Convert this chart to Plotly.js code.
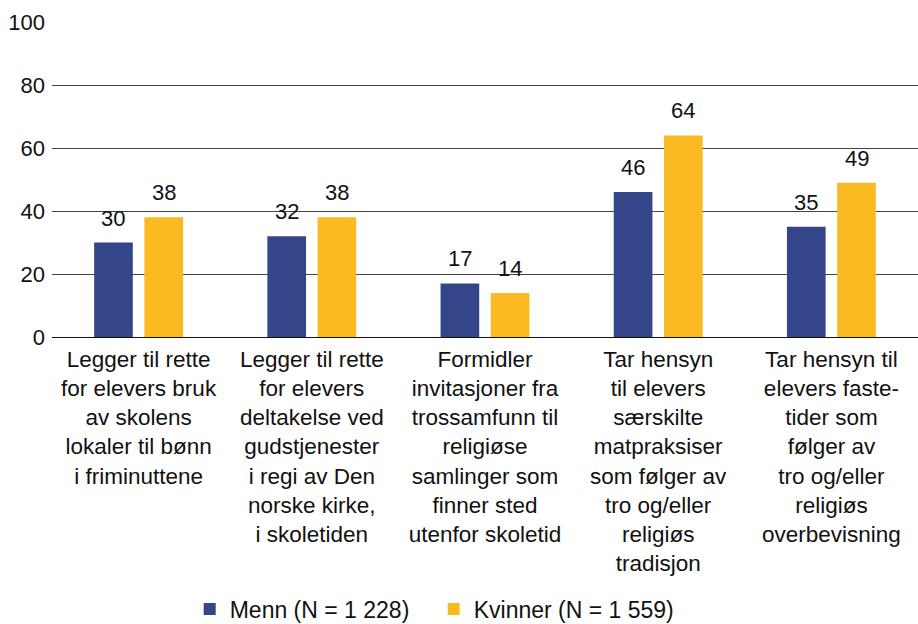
<!DOCTYPE html>
<html>
<head>
<meta charset="utf-8">
<script src="https://cdn.plot.ly/plotly-3.0.1.min.js"></script>
<style>html,body{margin:0;padding:0;background:#fff;}#chart{width:918px;height:624px;}</style>
</head>
<body>
<div id="chart"></div>
<script>
const categories = [
  "Legger til rette<br>for elevers bruk<br>av skolens<br>lokaler til bønn<br>i friminuttene",
  "Legger til rette<br>for elevers<br>deltakelse ved<br>gudstjenester<br>i regi av Den<br>norske kirke,<br>i skoletiden",
  "Formidler<br>invitasjoner fra<br>trossamfunn til<br>religiøse<br>samlinger som<br>finner sted<br>utenfor skoletid",
  "Tar hensyn<br>til elevers<br>særskilte<br>matpraksiser<br>som følger av<br>tro og/eller<br>religiøs<br>tradisjon",
  "Tar hensyn til<br>elevers faste-<br>tider som<br>følger av<br>tro og/eller<br>religiøs<br>overbevisning"
];
const menn = [30, 32, 17, 46, 35];
const kvinner = [38, 38, 14, 64, 49];
const seriesNames = ["Menn (N = 1 228)", "Kvinner (N = 1 559)"];
const yTicks = [0, 20, 40, 60, 80, 100];

const colors = ["#344589", "#FBBA22"];
const fam = "Liberation Sans, Arial, sans-serif";
const font = {family: fam, size: 22, color: "#111"};
const catFont = {family: fam, size: 22.5, color: "#111"};
const legFont = {family: fam, size: 23, color: "#111"};

const traces = [menn, kvinner].map((vals, i) => ({
  type: "bar",
  name: seriesNames[i],
  x: categories,
  y: vals,
  marker: {color: colors[i], line: {width: 0}},
  hoverinfo: "none"
}));

const plotW = 918 - 52;
const catW = plotW / categories.length;
const bargap = 0.42;
const slotW = catW * (1 - bargap) / 2;
const annotations = [];
[menn, kvinner].forEach((vals, i) => {
  vals.forEach((v, j) => {
    annotations.push({
      x: categories[j], y: v, xref: "x", yref: "y",
      text: String(v), showarrow: false,
      xanchor: "center", yanchor: "bottom",
      xshift: (i === 0 ? -1 : 1) * slotW / 2,
      yshift: 10,
      font: font
    });
  });
});

const layout = {
  width: 918, height: 624,
  margin: {l: 52, r: 0, t: 22, b: 287, pad: 0, autoexpand: false},
  paper_bgcolor: "#fff", plot_bgcolor: "#fff",
  font: font,
  barmode: "group",
  bargap: bargap,
  bargroupgap: 0.23,
  showlegend: true,
  legend: {orientation: "h", x: 0.159, xanchor: "left", yref: "container", y: 15 / 624, yanchor: "middle",
           font: legFont, traceorder: "normal", itemwidth: 30, entrywidth: 199},
  xaxis: {type: "category", showgrid: false, showline: false, ticks: "", tickfont: catFont,
          tickangle: 0, ticklabelstandoff: 6, automargin: false, fixedrange: true},
  yaxis: {range: [0, 100], tickvals: yTicks, ticktext: yTicks.map(String), showgrid: true,
          gridcolor: "#444", gridwidth: 1, zeroline: true, zerolinecolor: "#111", zerolinewidth: 1,
          showline: false, ticks: "", tickfont: font, ticklabelstandoff: 6, automargin: false, fixedrange: true},
  annotations: annotations
};

Plotly.newPlot("chart", traces, layout, {displayModeBar: false, staticPlot: true});
</script>
</body>
</html>
